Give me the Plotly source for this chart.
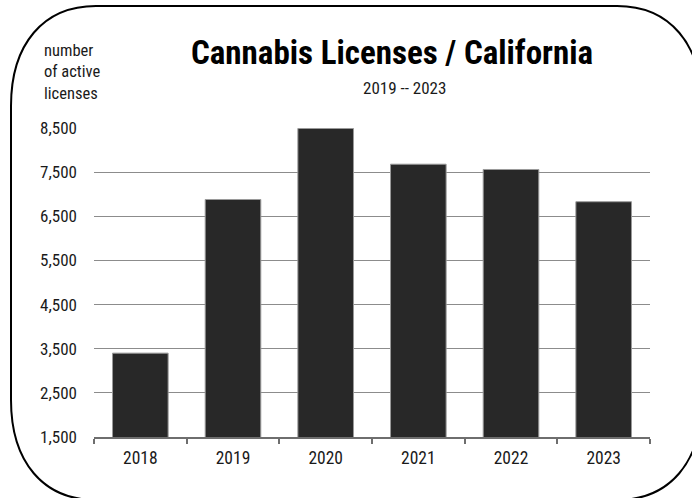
import plotly.graph_objects as go

# Active cannabis licenses in California, by year
years = ["2018", "2019", "2020", "2021", "2022", "2023"]
licenses = [3400, 6880, 8490, 7680, 7560, 6830]

y_ticks = [1500, 2500, 3500, 4500, 5500, 6500, 7500, 8500]

title_text = "Cannabis Licenses / California"
subtitle_text = "2019 -- 2023"
y_caption = "number<br>of active<br>licenses"

W, H = 692, 498
ML, MR, MT, MB = 94, 42, 128, 61
PW, PH = W - ML - MR, H - MT - MB

NARROW = ("Liberation Sans Narrow, Arial Narrow, Roboto Condensed, "
          "DejaVu Sans Condensed, Liberation Sans, Arial, sans-serif")


def px(x):
    return (x - ML) / PW


def py(y):
    return (H - MB - y) / PH


def frame_path(x0, y0, x1, y1, rx, ry, k):
    """Rounded rectangle outline (pixel coords) as an SVG path in paper coords."""

    def P(x, y):
        return f"{px(x):.5f},{py(y):.5f}"

    d = f"M {P(x0 + rx, y0)} L {P(x1 - rx, y0)} "
    d += f"C {P(x1 - rx + k * rx, y0)} {P(x1, y0 + ry - k * ry)} {P(x1, y0 + ry)} "
    d += f"L {P(x1, y1 - ry)} "
    d += f"C {P(x1, y1 - ry + k * ry)} {P(x1 - rx + k * rx, y1)} {P(x1 - rx, y1)} "
    d += f"L {P(x0 + rx, y1)} "
    d += f"C {P(x0 + rx - k * rx, y1)} {P(x0, y1 - ry + k * ry)} {P(x0, y1 - ry)} "
    d += f"L {P(x0, y0 + ry)} "
    d += f"C {P(x0, y0 + ry - k * ry)} {P(x0 + rx - k * rx, y0)} {P(x0 + rx, y0)} Z"
    return d


fig = go.Figure(
    go.Bar(
        x=years,
        y=licenses,
        marker=dict(color="#282828", line=dict(color="#9a9a9a", width=1)),
        hoverinfo="x+y",
    )
)

fig.update_layout(
    width=W,
    height=H,
    margin=dict(l=ML, r=MR, t=MT, b=MB, pad=0),
    paper_bgcolor="white",
    plot_bgcolor="white",
    bargap=0.4,
    showlegend=False,
    font=dict(family=NARROW, color="#1a1a1a", size=17),
    xaxis=dict(
        type="category",
        showline=True,
        linecolor="#6e6e6e",
        linewidth=1.5,
        ticks="outside",
        tickson="boundaries",
        ticklen=5,
        tickwidth=1.5,
        tickcolor="#6e6e6e",
        showgrid=False,
        tickfont=dict(size=17.5, family=NARROW, color="#1a1a1a"),
        ticklabelstandoff=4,
    ),
    yaxis=dict(
        range=[1500, 8500],
        tickvals=y_ticks,
        tickformat=",",
        showgrid=True,
        gridcolor="#8c8c8c",
        gridwidth=1,
        zeroline=False,
        showline=False,
        ticks="",
        tickfont=dict(size=17, family=NARROW, color="#1a1a1a"),
        ticklabelstandoff=16,
    ),
    annotations=[
        dict(
            text=f"<b>{title_text}</b>",
            xref="paper", yref="paper",
            x=px(392), y=py(52),
            xanchor="center", yanchor="middle",
            showarrow=False,
            font=dict(size=33, family=NARROW, color="#000000"),
        ),
        dict(
            text=subtitle_text,
            xref="paper", yref="paper",
            x=px(404), y=py(88),
            xanchor="center", yanchor="middle",
            showarrow=False,
            font=dict(size=17, family=NARROW, color="#1a1a1a"),
        ),
        dict(
            text=y_caption,
            xref="paper", yref="paper",
            x=px(42), y=py(71.5),
            xanchor="left", yanchor="middle",
            align="left",
            showarrow=False,
            font=dict(size=16.5, family=NARROW, color="#1a1a1a"),
        ),
    ],
    shapes=[
        dict(
            type="path",
            xref="paper", yref="paper",
            path=frame_path(11, 6, 702, 500, 85, 100, 0.62),
            line=dict(color="#000000", width=2),
            fillcolor="rgba(0,0,0,0)",
            layer="above",
        )
    ],
)

fig.write_html("out.html")
